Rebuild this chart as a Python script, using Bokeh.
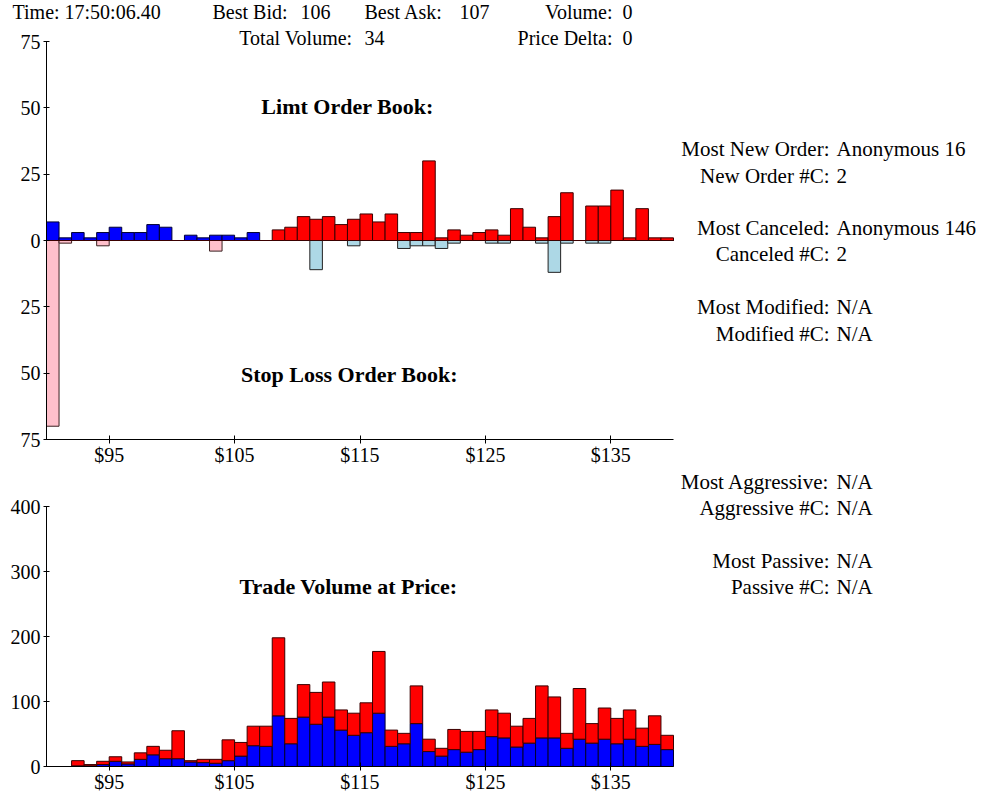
from bokeh.plotting import figure
from bokeh.models import ColumnDataSource, Range1d, FixedTicker, Label
from bokeh.transform import dodge
from bokeh.layouts import column
from bokeh.embed import file_html
from bokeh.resources import INLINE

# ---------------- data ----------------
prices = list(range(90, 140))

# limit order book (above zero)
bid_limit = [7, 1, 3, 1, 3, 5, 3, 3, 6, 5, 0, 2, 1, 2, 2, 1, 3, 0,
             0, 0, 0, 0, 0, 0, 0, 0, 0, 0, 0, 0, 0, 0, 0, 0, 0, 0, 0, 0,
             0, 0, 0, 0, 0, 0, 0, 0, 0, 0, 0, 0]
ask_limit = [0, 0, 0, 0, 0, 0, 0, 0, 0, 0, 0, 0, 0, 0, 0, 0, 0, 0,
             4, 5, 9, 8, 9, 6, 8, 10, 7, 10, 3, 3, 30, 1, 4, 2, 3, 4, 2, 12,
             5, 1, 9, 18, 0, 13, 13, 19, 1, 12, 1, 1]
# stop loss order book (shown below zero)
bid_stop = [70, 1, 0, 0, 2, 0, 0, 0, 0, 0, 0, 0, 0, 4, 0, 0, 0, 0,
            0, 0, 0, 0, 0, 0, 0, 0, 0, 0, 0, 0, 0, 0, 0, 0, 0, 0, 0, 0,
            0, 0, 0, 0, 0, 0, 0, 0, 0, 0, 0, 0]
ask_stop = [0, 0, 0, 0, 0, 0, 0, 0, 0, 0, 0, 0, 0, 0, 0, 0, 0, 0,
            0, 0, 0, 11, 0, 0, 2, 0, 0, 0, 3, 2, 2, 3, 1, 0, 0, 1, 1, 0,
            0, 1, 12, 1, 0, 1, 1, 0, 0, 0, 0, 0]

# trade volume at price
buy_volume = [0, 0, 1, 1, 3, 8, 4, 11, 18, 12, 12, 7, 6, 5, 9, 16, 32, 31,
              78, 35, 76, 65, 76, 56, 48, 52, 82, 31, 35, 66, 23, 16, 26, 22,
              26, 46, 44, 30, 36, 44, 44, 28, 42, 36, 42, 35, 42, 31, 34, 26]
sell_volume = [0, 0, 8, 2, 5, 7, 3, 10, 13, 13, 43, 2, 5, 6, 32, 21, 30, 31,
               120, 39, 50, 49, 54, 31, 34, 46, 95, 25, 16, 58, 19, 12, 31, 32,
               28, 41, 38, 32, 38, 80, 63, 23, 78, 30, 48, 39, 45, 28, 44, 22]

top_y_ticks = [-75, -50, -25, 0, 25, 50, 75]
top_y_labels = ["75", "50", "25", "0", "25", "50", "75"]
x_ticks = [95, 105, 115, 125, 135]
x_labels = ["$95", "$105", "$115", "$125", "$135"]
bottom_y_ticks = [0, 100, 200, 300, 400]
bottom_y_labels = ["0", "100", "200", "300", "400"]

header_row1 = [("Time: 17:50:06.40", 12, "left"), ("Best Bid:", 212, "left"), ("106", 300, "left"),
               ("Best Ask:", 364, "left"), ("107", 459, "left"), ("Volume:", 612, "right"), ("0", 622, "left")]
header_row2 = [("Total Volume:", 352, "right"), ("34", 364, "left"),
               ("Price Delta:", 612, "right"), ("0", 622, "left")]

stats_top = [("Most New Order:", "Anonymous 16", 148), ("New Order #C:", "2", 175),
             ("Most Canceled:", "Anonymous 146", 227), ("Canceled #C:", "2", 253),
             ("Most Modified:", "N/A", 306), ("Modified #C:", "N/A", 333)]
stats_bottom = [("Most Aggressive:", "N/A", 481), ("Aggressive #C:", "N/A", 507),
                ("Most Passive:", "N/A", 560), ("Passive #C:", "N/A", 586)]

FONT = "Liberation Serif"

# ---------------- layout constants (page px) ----------------
W = 987
X_LO, X_HI = 90, 140
X_PIX_LO, X_PIX_HI = 46, 673
x_scale = (X_PIX_HI - X_PIX_LO) / (X_HI - X_LO)
x_start = X_LO - X_PIX_LO / x_scale
x_end = X_LO + (W - X_PIX_LO) / x_scale

TOP_H = 467
TOP_AX_TOP, TOP_AX_BOTTOM = 41, 439          # page y of +75 / -75
top_scale = (TOP_AX_BOTTOM - TOP_AX_TOP) / 150.0
top_y_start = -75 - (TOP_H - TOP_AX_BOTTOM) / top_scale
top_y_end = 75 + TOP_AX_TOP / top_scale

BOT_Y0 = TOP_H
BOT_H = 794 - TOP_H
BOT_AX_TOP, BOT_AX_BOTTOM = 506, 766          # page y of 400 / 0
bot_scale = (BOT_AX_BOTTOM - BOT_AX_TOP) / 400.0
bot_y_start = -(BOT_Y0 + BOT_H - BOT_AX_BOTTOM) / bot_scale
bot_y_end = 400 + (BOT_AX_TOP - BOT_Y0) / bot_scale


def style_axes(p, yticks, ylabels, ybounds, x_at):
    p.xgrid.visible = False
    p.ygrid.visible = False
    p.outline_line_color = None
    for ax in (p.xaxis[0], p.yaxis[0]):
        ax.axis_line_color = "black"
        ax.major_tick_line_color = "black"
        ax.minor_tick_line_color = None
        ax.major_label_text_font = FONT
        ax.major_label_text_font_size = "20px"
        ax.major_label_text_color = "black"
    p.xaxis.bounds = (X_LO, X_HI)
    p.xaxis.fixed_location = x_at
    p.xaxis.ticker = FixedTicker(ticks=x_ticks)
    p.xaxis.major_label_overrides = {t: l for t, l in zip(x_ticks, x_labels)}
    p.xaxis.major_tick_in = 4
    p.xaxis.major_tick_out = 4
    p.xaxis.major_label_standoff = 0
    p.yaxis.bounds = ybounds
    p.yaxis.fixed_location = X_LO
    p.yaxis.ticker = FixedTicker(ticks=yticks)
    p.yaxis.major_label_overrides = {t: l for t, l in zip(yticks, ylabels)}
    p.yaxis.major_tick_in = 3
    p.yaxis.major_tick_out = 3
    p.yaxis.major_label_standoff = 3


def add_text(p, fig_bottom, px, py, text, align="left", bold=False, size="21px"):
    p.add_layout(Label(x=px, y=fig_bottom - py, x_units="screen", y_units="screen",
                       text=text, text_font=FONT, text_font_size=size,
                       text_font_style="bold" if bold else "normal",
                       text_align=align, text_baseline="middle", text_color="black"))


def base_fig(h, y0, y1):
    return figure(width=W, height=h, x_range=Range1d(x_start, x_end), y_range=Range1d(y0, y1),
                  toolbar_location=None, output_backend="svg",
                  min_border_left=0, min_border_right=0, min_border_top=0, min_border_bottom=0)


# ---------------- top: order book ----------------
src_top = ColumnDataSource(dict(
    price=prices, bid=bid_limit, ask=ask_limit,
    bid_stop=[-v for v in bid_stop], ask_stop=[-v for v in ask_stop]))

p1 = base_fig(TOP_H, top_y_start, top_y_end)
xpos = dodge("price", 0.5)
p1.vbar(x=xpos, width=1, top="bid_stop", bottom=0, source=src_top,
        fill_color="#ffc0cb", line_color="#3a2020")
p1.vbar(x=xpos, width=1, top="ask_stop", bottom=0, source=src_top,
        fill_color="#add8e6", line_color="#202020")
p1.vbar(x=xpos, width=1, top="bid", bottom=0, source=src_top,
        fill_color="#0000ff", line_color="#000030")
p1.vbar(x=xpos, width=1, top="ask", bottom=0, source=src_top,
        fill_color="#ff0000", line_color="#3a0000")
style_axes(p1, top_y_ticks, top_y_labels, (-75, 75), -75)

for text, px, al in header_row1:
    add_text(p1, TOP_H, px, 11.5, text, al, size="20px")
for text, px, al in header_row2:
    add_text(p1, TOP_H, px, 37, text, al, size="20px")
add_text(p1, TOP_H, 347, 106, "Limt Order Book:", "center", True, "22px")
add_text(p1, TOP_H, 349, 374, "Stop Loss Order Book:", "center", True, "22px")
for lab, val, py in stats_top:
    add_text(p1, TOP_H, 829, py, lab, "right")
    add_text(p1, TOP_H, 836, py, val, "left")

# ---------------- bottom: trade volume ----------------
src_bot = ColumnDataSource(dict(price=prices, buy=buy_volume, sell=sell_volume))
p2 = base_fig(BOT_H, bot_y_start, bot_y_end)
p2.vbar_stack(["buy", "sell"], x=dodge("price", 0.5), width=1, source=src_bot,
              fill_color=["#0000ff", "#ff0000"], line_color=["#000030", "#3a0000"])
style_axes(p2, bottom_y_ticks, bottom_y_labels, (0, 400), 0)
add_text(p2, BOT_H, 348, 586 - BOT_Y0, "Trade Volume at Price:", "center", True, "22px")
for lab, val, py in stats_bottom:
    add_text(p2, BOT_H, 829, py - BOT_Y0, lab, "right")
    add_text(p2, BOT_H, 836, py - BOT_Y0, val, "left")

layout = column(p1, p2, spacing=0)
open("out.html", "w").write(file_html(layout, INLINE))
